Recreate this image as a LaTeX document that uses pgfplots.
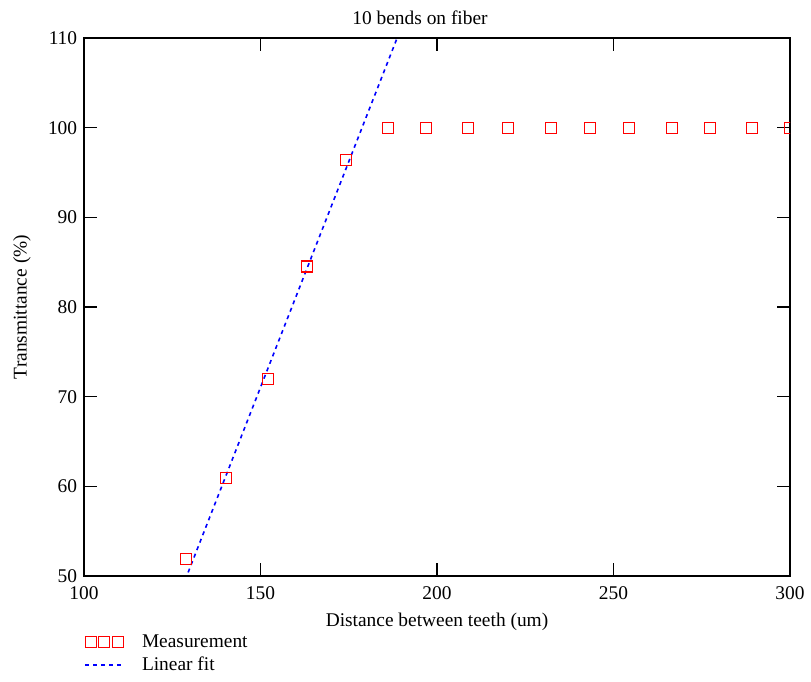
\documentclass[border=0pt]{standalone}
\usepackage{fontspec}
\setmainfont{Liberation Serif}
\usepackage{pgfplots}
\pgfplotsset{compat=1.18}
\newcommand{\ff}{\fontsize{9.7}{11.5}\selectfont}
\begin{document}
\ff
\begin{tikzpicture}
\begin{axis}[
  scale only axis, width=353pt, height=269pt,
  xmin=100, xmax=300, ymin=50, ymax=110,
  xtick={100,150,...,300}, ytick={50,60,...,110},
  tick align=inside, major tick length=6.5pt,
  axis line style={line width=0.75pt},
  every tick/.style={black, line width=0.75pt},
  /pgf/number format/assume math mode=true,
  ticklabel style={font=\ff},
  xticklabel style={yshift=-2pt},
  title={10 bends on fiber},
  title style={at={(0.476,1)}, anchor=south, yshift=-3pt, font=\ff},
  xlabel={Distance between teeth (um)},
  ylabel={Transmittance (\%)},
  ylabel style={yshift=2pt},
  label style={font=\ff},
  clip marker paths=true,
  legend style={draw=none, fill=none, at={(0,0)}, anchor=north west, yshift=-28pt,
    inner sep=0pt, row sep=1.5pt, column sep=8pt, nodes={inner sep=1pt}, font=\ff},
  legend cell align=left,
  reverse legend,
]
\coordinate (bl) at (rel axis cs:0,0);
\coordinate (tr) at (rel axis cs:1,1);
\addplot[blue, line width=0.8pt, dash pattern=on 2pt off 2pt,
  legend image code/.code={\draw[blue, line width=0.8pt, dash pattern=on 2pt off 2pt] (0pt,0pt) -- (19pt,0pt);}]
  coordinates {(129.5,50.4) (188.7,110)};
\addplot[only marks, mark=square, mark size=2.75pt, color=red, line width=0.65pt,
  mark options={draw=red, fill=none, solid},
  legend image code/.code={\draw[draw=red, line width=0.65pt] plot[mark=square, mark size=2.75pt, only marks] coordinates {(2.75pt,0pt) (9.5pt,0pt) (16.25pt,0pt)};}]
  coordinates {
  (128.9,51.9) (140.2,60.9) (152.1,72.0) (163.2,84.5) (174.2,96.4)
  (186.1,100) (196.9,100) (208.8,100) (220.1,100) (232.3,100) (243.3,100)
  (254.4,100) (266.6,100) (277.3,100) (289.2,100) (300,100)};
\legend{Linear fit, Measurement}
\end{axis}
\pgfresetboundingbox
\path (bl) +(-42pt,-53pt) (tr) +(10.5pt,19pt);
\end{tikzpicture}
\end{document}
